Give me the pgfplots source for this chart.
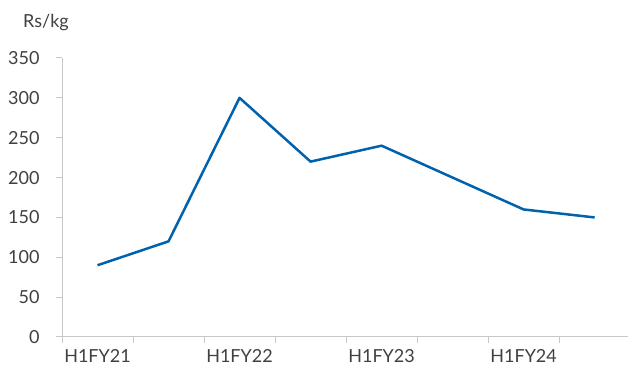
\documentclass[border=0pt]{standalone}
\usepackage{pgfplots}
\pgfplotsset{compat=1.18}
\usepackage{fontspec}
\setmainfont{Lato}
\definecolor{linec}{RGB}{0,98,172}
\definecolor{axc}{RGB}{200,200,200}
\definecolor{txt}{RGB}{64,64,64}
\begin{document}
\begin{tikzpicture}[x=1pt,y=1pt]
\useasboundingbox (0,0) rectangle (628,371);
\begin{axis}[
  at={(62pt,34pt)}, anchor=south west,
  scale only axis, width=566pt, height=279pt,
  xmin=-0.5, xmax=7.47, ymin=0, ymax=350,
  axis lines*=left,
  axis line style={draw=axc, line width=1pt, -},
  xtick={0,2,4,6},
  xticklabels={H1FY21,H1FY22,H1FY23,H1FY24},
  minor xtick={-0.5,0.5,1.5,2.5,3.5,4.5,5.5,6.5},
  ytick={0,50,...,350},
  tick align=outside,
  major x tick style={draw=none},
  minor tick length=6pt,
  major tick length=6pt,
  tick style={draw=axc, line width=1pt},
  ticklabel style={font=\fontsize{18}{21}\selectfont, text=txt},
  yticklabel style={xshift=-13pt},
  xticklabel style={yshift=-3pt},
  /pgf/number format/assume math mode=true,
  clip=false,
]
\addplot[linec, line width=2.5pt, line join=round] coordinates {
 (0,90) (1,120) (2,300) (3,220) (4,240) (5,200) (6,160) (7,150)
};
\end{axis}
\node[anchor=base west, inner sep=0, text=txt, font=\fontsize{18}{21}\selectfont] at (23,343) {Rs/kg};
\end{tikzpicture}
\end{document}
